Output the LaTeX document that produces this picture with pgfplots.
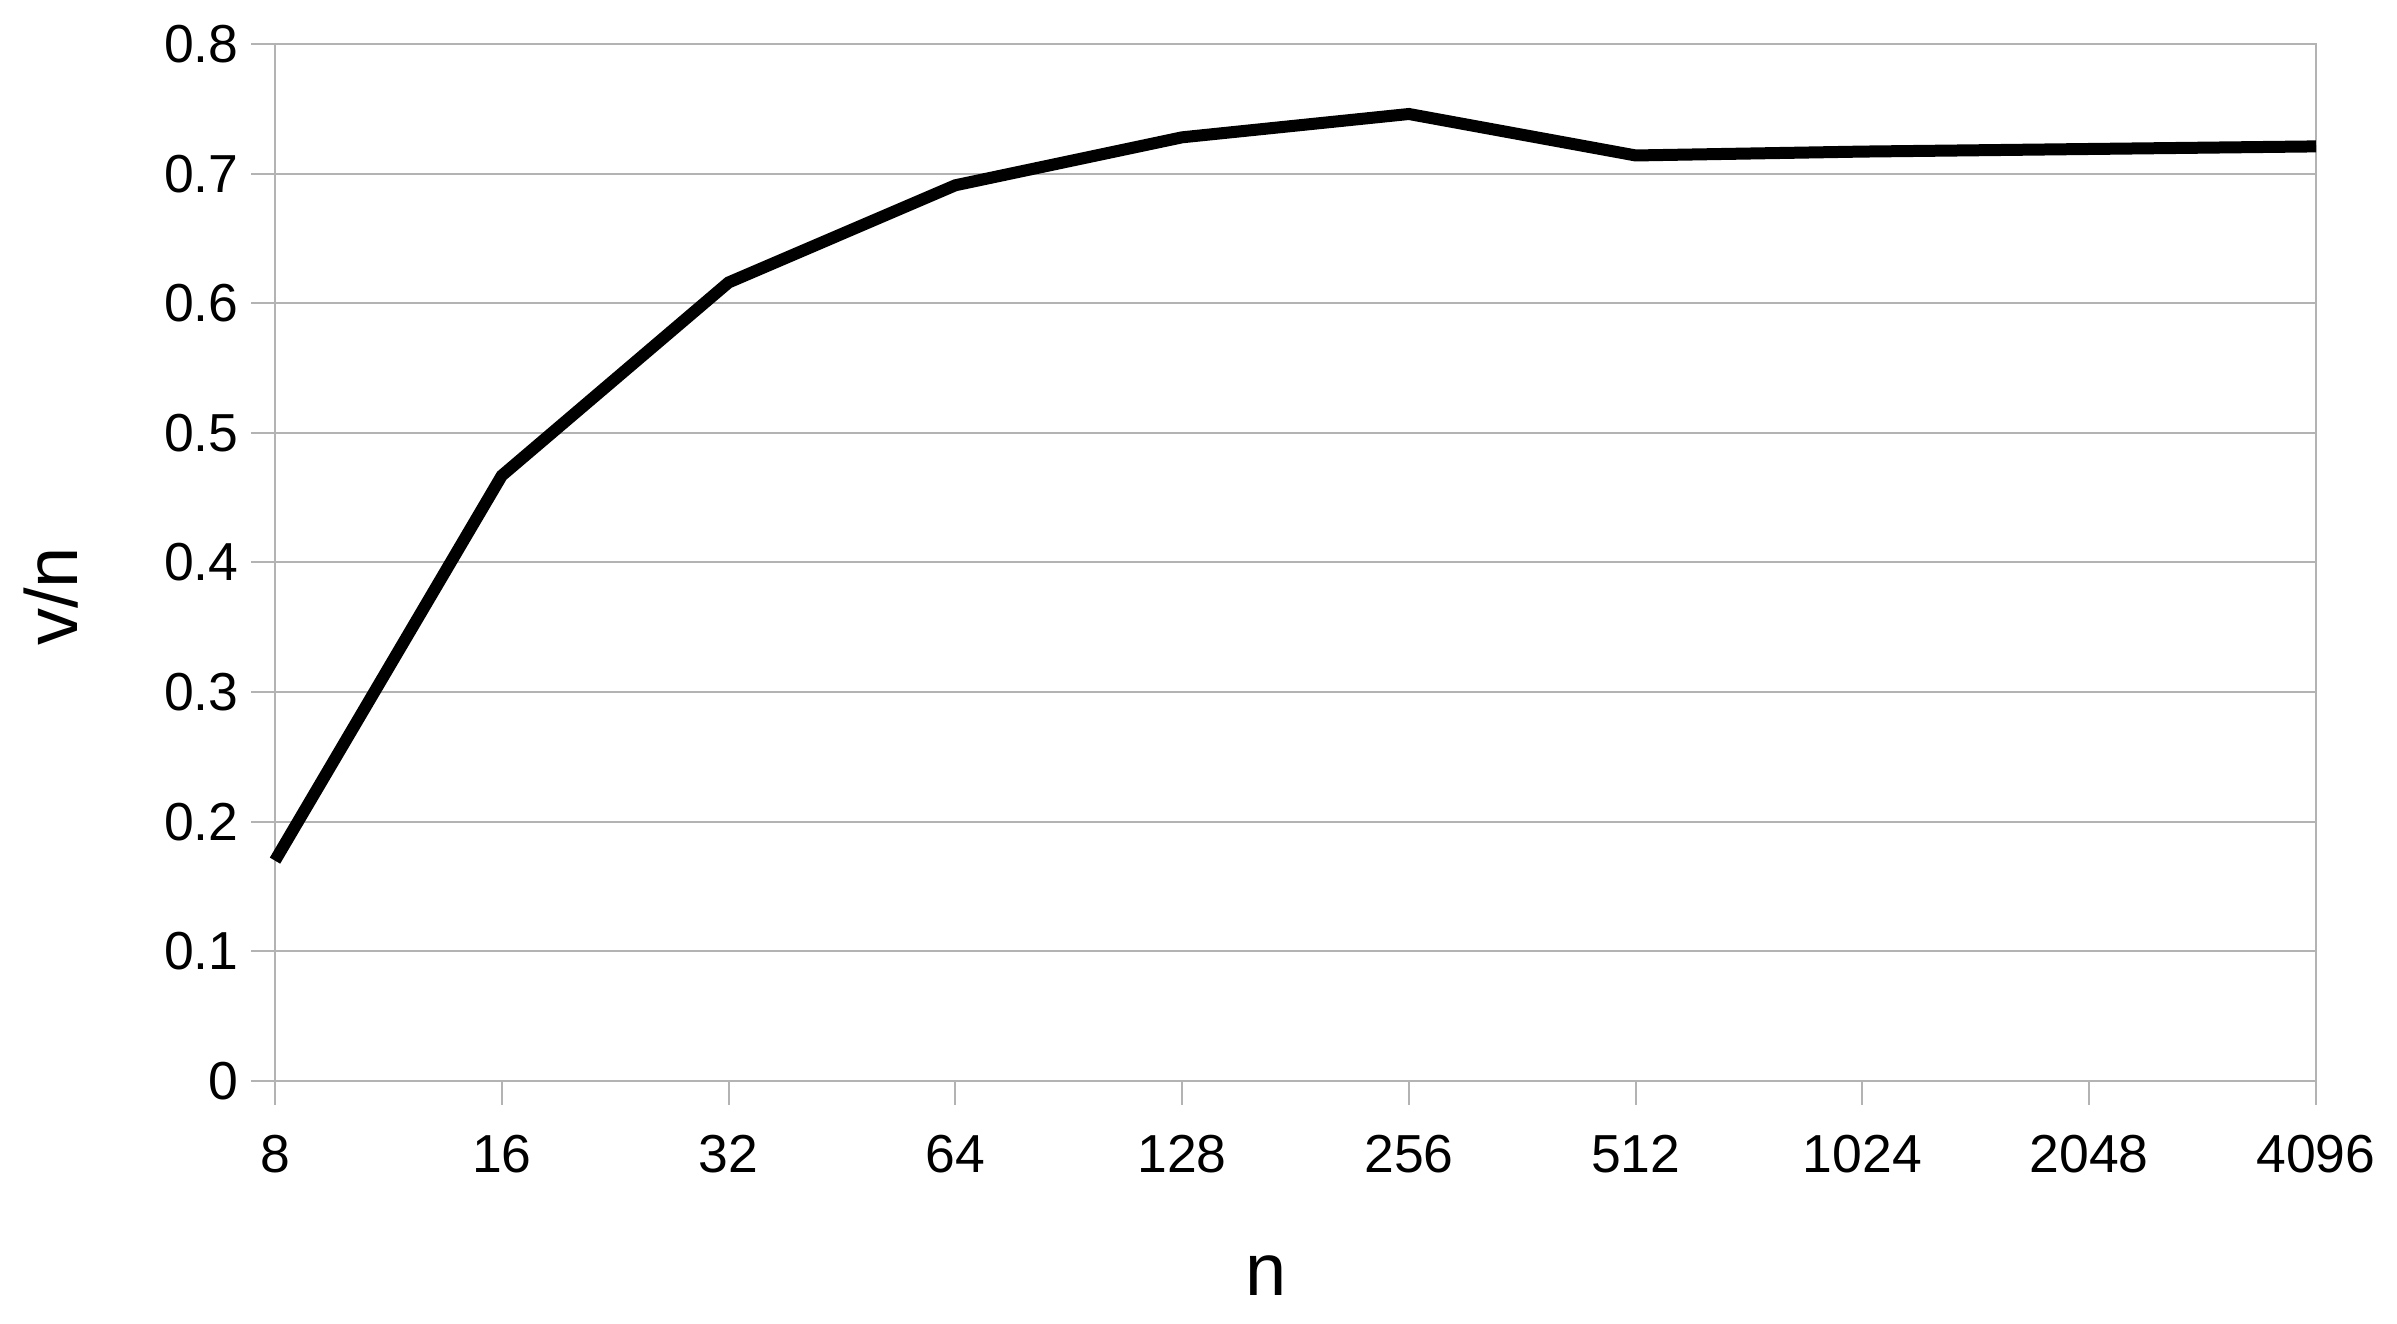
\documentclass[border=0pt]{standalone}
\usepackage{fontspec}
\setmainfont{Liberation Sans}
\usepackage{pgfplots}
\pgfplotsset{compat=1.18}
\usetikzlibrary{calc}

\definecolor{gridgray}{RGB}{179,179,179}

\begin{document}
\begin{tikzpicture}
\begin{axis}[
    scale only axis,
    width=408.2pt, height=207.4pt,
    xmode=log, log basis x=2,
    xmin=8, xmax=4096,
    ymin=0, ymax=0.8,
    xtick={8,16,32,64,128,256,512,1024,2048,4096},
    xticklabels={8,16,32,64,128,256,512,1024,2048,4096},
    ytick={0,0.1,0.2,0.3,0.4,0.5,0.6,0.7,0.8},
    yticklabels={0,0.1,0.2,0.3,0.4,0.5,0.6,0.7,0.8},
    xtick pos=bottom, ytick pos=left,
    tick align=outside,
    major tick length=4.8pt,
    tick style={gridgray, line width=0.4pt},
    axis line style={gridgray, line width=0.4pt},
    ymajorgrids,
    major grid style={gridgray, line width=0.4pt},
    tick label style={font=\fontsize{10.7}{12}\selectfont, black},
    /pgf/number format/assume math mode=true,
    xticklabel style={yshift=-2.4pt},
    yticklabel style={xshift=1pt},
    xlabel={n},
    ylabel={v/n},
    label style={font=\fontsize{14.8}{17}\selectfont},
    xlabel style={at={(axis description cs:0.5,0)}, anchor=center, yshift=-39pt, xshift=-5.8pt},
    ylabel style={at={(axis description cs:0,0.5)}, anchor=center, yshift=44.7pt, xshift=-6.8pt},
    clip=false,
]
\addplot[black, line width=2.4pt, no marks] coordinates {
(8,0.170)
(16,0.467)
(32,0.616)
(64,0.691)
(128,0.728)
(256,0.746)
(512,0.714)
(1024,0.717)
(2048,0.719)
(4096,0.721)
};
\end{axis}
\pgfresetboundingbox
\path ($(current axis.south west)+(-55pt,-48.6pt)$) rectangle ($(current axis.south west)+(424.4pt,216.2pt)$);
\end{tikzpicture}
\end{document}
